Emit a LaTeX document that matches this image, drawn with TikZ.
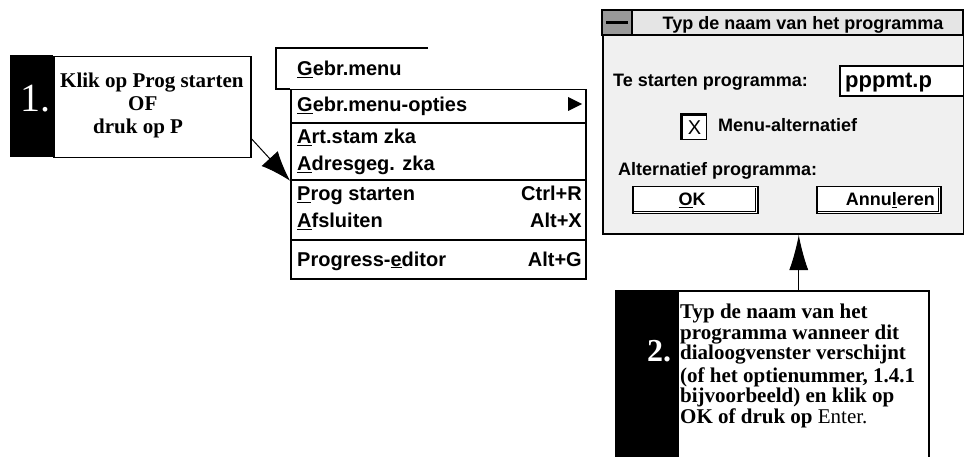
\documentclass[tikz,border=0pt]{standalone}
\usepackage{fontspec}
\setmainfont{Liberation Serif}
\newfontfamily\guifont{Liberation Sans}
\usetikzlibrary{arrows.meta}

\tikzset{
  frame/.style={draw, line width=1.5pt, fill=white, inner sep=0pt, anchor=north west},
  menutext/.style={font=\guifont\bfseries\fontsize{20}{24}\selectfont, inner sep=0pt, anchor=base west},
  menukey/.style={menutext, anchor=base east},
  dlgtext/.style={font=\guifont\bfseries\fontsize{18}{22}\selectfont, inner sep=0pt, anchor=base west},
  steptext/.style={font=\bfseries\fontsize{21}{23}\selectfont, inner sep=0pt, anchor=north west, align=left},
  button/.style={frame, minimum width=125pt, minimum height=27pt},
  bigarrow/.style={-{Latex[length=30pt,width=22pt]}, line width=1pt},
}
\newcommand\hot[1]{\underline{#1}}

\begin{document}
\begin{tikzpicture}[x=1pt,y=-1pt]
  \useasboundingbox (0,0) rectangle (964,457);
  \clip (0,0) rectangle (964,457);

  % Step 1
  \fill (10,55) rectangle (53,157);
  \node[text=white, font=\fontsize{40}{40}\selectfont] (nr1) at (35,99) {1.};
  \node[frame, minimum width=197pt, minimum height=101pt] (step1) at (53,56) {};
  \node[steptext] (txt1) at (60,73) {Klik op Prog starten\\ \hspace*{68pt}OF\\ \hspace*{33pt}druk op P};

  % Menu
  \draw[line width=1.5pt] (428,48) -- (276,48) -- (276,89) -- (290,89);
  \node[menutext] (head) at (297,76) {\hot{G}ebr.menu};
  \node[frame, minimum width=295pt, minimum height=189pt] (menu) at (290,89) {};
  \foreach \y in {123,180,240}
    \draw[line width=1.5pt] (290,\y) -- (585,\y);
  \foreach \t/\y [count=\i] in {\hot{G}ebr.menu-opties/112, \hot{A}rt.stam zka/144,
      \hot{A}dresgeg. zka/171, \hot{P}rog starten/201, \hot{A}fsluiten/228, Progress-\hot{e}ditor/266}
    \node[menutext] (item\i) at (297,\y) {\t};
  \node[menukey] (key1) at (582,201) {Ctrl+R};
  \node[menukey] (key2) at (582,228) {Alt+X};
  \node[menukey] (key3) at (582,266) {Alt+G};
  \fill (568,97) -- (582,104) -- (568,111) -- cycle;

  \draw[bigarrow] ([yshift=-31.5pt]step1.east) -- ([yshift=3.5pt]menu.west);

  % Dialog
  \node[frame, line width=2pt, fill=black!6, minimum width=361pt, minimum height=223pt] (dialog) at (602,10) {};
  \filldraw[fill=black!10, line width=1.5pt] (602,10) rectangle (963,35);
  \filldraw[fill=black!40, line width=1.5pt] (602,10) rectangle (632,35);
  \draw[line width=3pt] (606,23) -- (628,23);
  \node[dlgtext, anchor=base] (title) at (803,30) {Typ de naam van het programma};

  \node[dlgtext] (prog) at (613,87) {Te starten programma:};
  \node[frame, line width=2pt, minimum width=124pt, minimum height=30pt] (field) at (839,65) {};
  \node[dlgtext, font=\guifont\bfseries\fontsize{22}{26}\selectfont] (name) at (845,88) {pppmt.p};

  \node[frame, line width=1.2pt, minimum width=26pt, minimum height=26pt] (check) at (680,113) {};
  \draw[line width=3pt] ([shift={(1.5,-1.5)}]check.south west) -- ([shift={(1.5,1.5)}]check.north west) -- ([shift={(-1.5,1.5)}]check.north east);
  \node[font=\guifont\fontsize{20}{24}\selectfont, inner sep=0pt] (cross) at ([shift={(1,1)}]check) {X};
  \node[dlgtext] (alt) at (718,132) {Menu-alternatief};
  \node[dlgtext] (altprog) at (618,176) {Alternatief programma:};

  \node[button] (ok) at (632,186) {};
  \node[button, minimum width=124pt] (cancel) at (816,186) {};
  \foreach \b in {ok,cancel}
    \draw[line width=1.2pt] ([shift={(-3,2)}]\b.north east) -- ([shift={(-3,-3)}]\b.south east) -- ([shift={(2,-3)}]\b.south west);
  \node[dlgtext, anchor=base] (oktxt) at (692,206) {\hot{O}K};
  \node[dlgtext, anchor=base east] (canceltxt) at (935,206) {Annu\hot{l}eren};

  % Step 2
  \fill (615,290) rectangle (677,470);
  \node[text=white, font=\bfseries\fontsize{32}{32}\selectfont] (nr2) at (659,351) {2.};
  \node[frame, minimum width=251pt, minimum height=180pt] (step2) at (677,290) {};
  \node[steptext, font=\bfseries\fontsize{21}{20.5}\selectfont] (txt2) at (680,304)
    {Typ de naam van het\\ programma wanneer dit\\ dialoogvenster verschijnt\\[2pt]
     (of het optienummer, 1.4.1\\ bijvoorbeeld) en klik op\\ OK of druk op \mdseries Enter.};

  \draw[bigarrow, -{Latex[length=35pt,width=19pt]}] ([xshift=-4.5pt]step2.north) -- ([xshift=-4.5pt]step2.north |- dialog.south);
\end{tikzpicture}
\end{document}
